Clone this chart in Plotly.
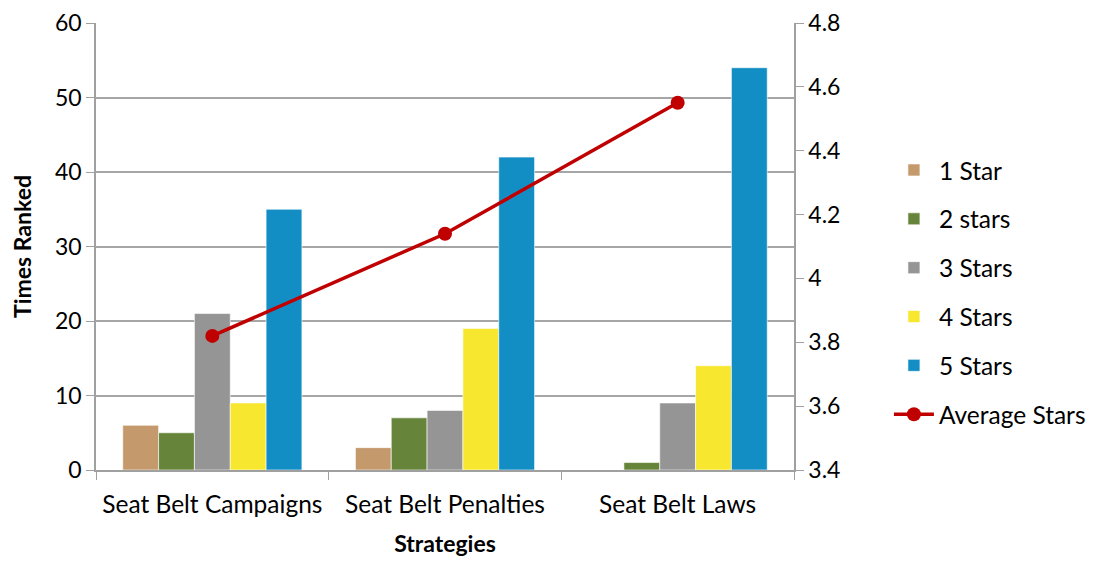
import plotly.graph_objects as go

categories = ["Seat Belt Campaigns", "Seat Belt Penalties", "Seat Belt Laws"]
series_names = ["1 Star", "2 stars", "3 Stars", "4 Stars", "5 Stars"]
one_star = [6, 3, 0]
two_stars = [5, 7, 1]
three_stars = [21, 8, 9]
four_stars = [9, 19, 14]
five_stars = [35, 42, 54]
average_stars = [3.82, 4.14, 4.55]

colors = ["#C4996C", "#66843A", "#959595", "#F7E72F", "#138EC4"]
FONT = "Lato"
FS = 23
FSL = 24.5

fig = go.Figure()
for name, vals, col in zip(series_names, [one_star, two_stars, three_stars, four_stars, five_stars], colors):
    fig.add_trace(go.Bar(x=categories, y=vals, name=name, legendgroup=name,
                         marker=dict(color=col, line=dict(color="rgba(255,255,255,0.6)", width=1))))

fig.add_trace(go.Scatter(x=categories, y=average_stars, name="Average Stars", yaxis="y2",
                         legendgroup="avg",
                         mode="lines+markers", line=dict(color="#C00000", width=3.5),
                         marker=dict(color="#C00000", size=14)))

fig.update_layout(
    width=1095, height=561,
    margin=dict(l=88, r=307, t=15, b=99),
    plot_bgcolor="white", paper_bgcolor="white",
    font=dict(family=FONT, size=FS, color="#000000"),
    barmode="group", bargap=0.23, bargroupgap=0,
    xaxis=dict(title=dict(text="<b>Strategies</b>", font=dict(size=FS), standoff=19),
               showline=True, linecolor="#A0A0A0", linewidth=1.5,
               ticks="outside", tickson="boundaries", ticklen=8, tickcolor="#A0A0A0",
               showgrid=False, tickfont=dict(size=FSL), ticklabelstandoff=12,
               automargin=False),
    yaxis=dict(title=dict(text="<b>Times Ranked</b>", font=dict(size=FS), standoff=24),
               range=[0, 60], dtick=10, showgrid=True, gridcolor="#A6A6A6", gridwidth=1.8,
               showline=True, linecolor="#A0A0A0", linewidth=1.5,
               ticks="outside", ticklen=8, tickcolor="#A0A0A0", zeroline=False,
               tickfont=dict(size=FS), automargin=False),
    yaxis2=dict(overlaying="y", side="right", range=[3.4, 4.8], dtick=0.2,
                showgrid=False, showline=True, linecolor="#A0A0A0", linewidth=1.5,
                ticks="outside", ticklen=8, tickcolor="#A0A0A0", zeroline=False,
                tickfont=dict(size=FS), tickformat="~g", automargin=False),
    legend=dict(x=1.136, y=0.397, yanchor="middle", xanchor="left",
                font=dict(size=FSL), traceorder="grouped", tracegroupgap=14, itemwidth=40,
                bgcolor="rgba(0,0,0,0)"),
)

fig.write_html("out.html")
